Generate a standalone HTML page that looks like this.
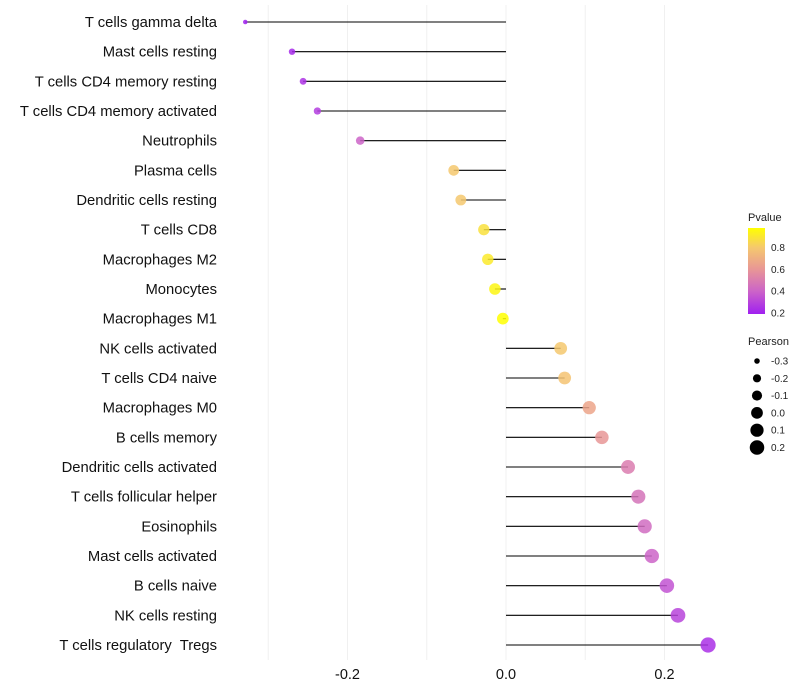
<!DOCTYPE html>
<html><head><meta charset="utf-8"><style>
body{margin:0;background:#fff;}
svg{display:block;font-family:"Liberation Sans",sans-serif;}
text{white-space:pre;}
</style></head><body>
<svg id="chart" width="800" height="700"></svg>
<script>
const categories=["T cells gamma delta","Mast cells resting","T cells CD4 memory resting","T cells CD4 memory activated","Neutrophils","Plasma cells","Dendritic cells resting","T cells CD8","Macrophages M2","Monocytes","Macrophages M1","NK cells activated","T cells CD4 naive","Macrophages M0","B cells memory","Dendritic cells activated","T cells follicular helper","Eosinophils","Mast cells activated","B cells naive","NK cells resting","T cells regulatory  Tregs"];
const pearson=[-0.329,-0.270,-0.256,-0.238,-0.184,-0.066,-0.057,-0.028,-0.023,-0.014,-0.004,0.069,0.074,0.105,0.121,0.154,0.167,0.175,0.184,0.203,0.217,0.255];
const pvalues=[0.19,0.22,0.25,0.28,0.40,0.80,0.80,0.88,0.91,0.95,0.98,0.80,0.78,0.66,0.60,0.50,0.46,0.43,0.40,0.35,0.30,0.24];
const xTicks=[-0.2,0.0,0.2];
const gridVals=[-0.3,-0.2,-0.1,0.0,0.1,0.2];
const pTicks=[0.2,0.4,0.6,0.8];
const sizeLegend=[-0.3,-0.2,-0.1,0.0,0.1,0.2];

const NS="http://www.w3.org/2000/svg";
const svg=document.getElementById('chart');
function mk(t,a,p){const e=document.createElementNS(NS,t);for(const k in a)e.setAttribute(k,a[k]);(p||svg).appendChild(e);return e;}
const xS=v=>506+v*792.5;
const yS=i=>22+i*(623/21);
const stops=[[0.19,[160,32,240]],[0.4,[204,100,200]],[0.6,[232,150,150]],[0.8,[245,200,110]],[0.98,[255,255,0]]];
function col(p){p=Math.max(0.19,Math.min(0.98,p));for(let i=0;i<stops.length-1;i++){const a=stops[i],b=stops[i+1];if(p<=b[0]){const t=(p-a[0])/(b[0]-a[0]);const c=a[1].map((v,j)=>Math.round(v+(b[1][j]-v)*t));return `rgb(${c})`;}}return 'rgb(255,255,0)';}
function rad(v){const a0=5,a1=58;const t=(v+0.33)/(0.26+0.33);return Math.sqrt(a0+(a1-a0)*t);}

gridVals.forEach(v=>{const g=mk('line',{x1:xS(v),x2:xS(v),y1:5,y2:660,stroke:'#f0f0f0','stroke-width':1});
});
xTicks.forEach(v=>{const t=mk('text',{x:xS(v),y:679,'text-anchor':'middle','font-size':14.5,fill:'#111'});t.textContent=v.toFixed(1);
});
categories.forEach((c,i)=>{
 const y=yS(i);
 const l=mk('text',{x:217,y:y+5,'text-anchor':'end','font-size':14.8,fill:'#111'});l.textContent=c;
 
 const s=mk('line',{x1:xS(0),x2:xS(pearson[i]),y1:y,y2:y,stroke:'#000','stroke-width':1.1});
 
 const d=mk('circle',{cx:xS(pearson[i]),cy:y,r:rad(pearson[i]),fill:col(pvalues[i]),'fill-opacity':0.85});
 
});
const lt=mk('text',{x:748,y:221,'font-size':11,fill:'#222'});lt.textContent='Pvalue';

const defs=mk('defs',{});const lg=mk('linearGradient',{id:'pg',x1:0,y1:1,x2:0,y2:0},defs);
stops.forEach(s=>mk('stop',{offset:((s[0]-0.19)/0.79),'stop-color':`rgb(${s[1]})`},lg));
const bar=mk('rect',{x:748,y:228,width:17,height:86,fill:'url(#pg)'});

const pY=p=>314-(p-0.19)/0.79*86;
pTicks.forEach(p=>{const t=mk('text',{x:771,y:pY(p)+3.5,'font-size':10,fill:'#222'});t.textContent=p.toFixed(1);
});
const st=mk('text',{x:748,y:345,'font-size':11,fill:'#222'});st.textContent='Pearson';

sizeLegend.forEach((v,i)=>{const y=361+i*17.3;
 const c=mk('circle',{cx:757,cy:y,r:rad(v),fill:'#000'});
 const t=mk('text',{x:771,y:y+3.5,'font-size':10,fill:'#222'});t.textContent=v.toFixed(1);
 });
</script>
</body></html>
